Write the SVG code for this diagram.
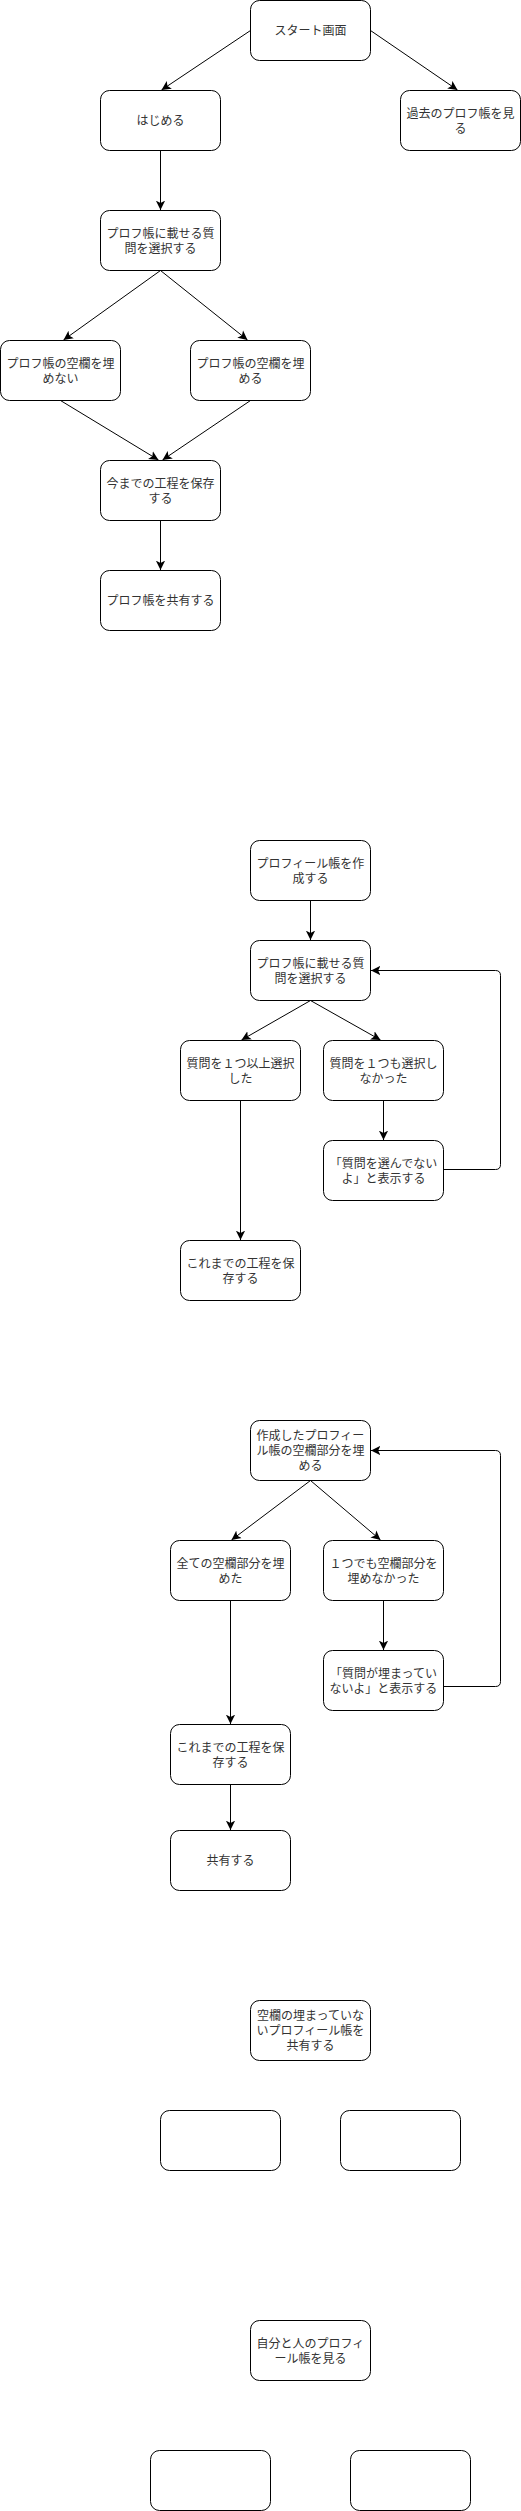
<svg xmlns="http://www.w3.org/2000/svg" width="521" height="2511" viewBox="0 0 521 2511">
<style>
.n rect{fill:#fff;stroke:#000;stroke-width:1}
.n text{font-family:"Liberation Sans","Noto Sans CJK JP",sans-serif;font-size:12px;fill:#333;text-anchor:middle}
.e path{fill:none;stroke:#000;stroke-width:1}
</style>
<defs>
<marker id="ar" markerUnits="userSpaceOnUse" markerWidth="10" markerHeight="10" viewBox="0 0 8 8" refX="7.5" refY="4" orient="auto">
<path d="M0,0.3 L7.5,4 L0,7.7 L1.8,4 Z" fill="#000" stroke="none"/>
</marker>
</defs>
<rect x="0" y="0" width="521" height="2511" fill="#fff"/>
<g transform="translate(0.5,0.5)">
<g class="e" id="connectors">
<path d="M250,30 L161,89.5" marker-end="url(#ar)"/>
<path d="M370,30 L457,89.5" marker-end="url(#ar)"/>
<path d="M160,150 L160,209.5" marker-end="url(#ar)"/>
<path d="M160,270 L63,339.5" marker-end="url(#ar)"/>
<path d="M160,270 L247,339.5" marker-end="url(#ar)"/>
<path d="M60,400 L158,459.5" marker-end="url(#ar)"/>
<path d="M250,400 L162,459.5" marker-end="url(#ar)"/>
<path d="M160,520 L160,569.5" marker-end="url(#ar)"/>
<path d="M310,900 L310,939.5" marker-end="url(#ar)"/>
<path d="M310,1000 L241,1039.5" marker-end="url(#ar)"/>
<path d="M310,1000 L380,1039.5" marker-end="url(#ar)"/>
<path d="M383,1100 L383,1139.5" marker-end="url(#ar)"/>
<path d="M443,1169 L495,1169 Q500,1169 500,1164 L500,975 Q500,970 495,970 L370.5,970" marker-end="url(#ar)"/>
<path d="M240,1100 L240,1239.5" marker-end="url(#ar)"/>
<path d="M310,1480 L231,1539.5" marker-end="url(#ar)"/>
<path d="M310,1480 L380,1539.5" marker-end="url(#ar)"/>
<path d="M383,1600 L383,1649.5" marker-end="url(#ar)"/>
<path d="M443,1686 L495,1686 Q500,1686 500,1681 L500,1455 Q500,1450 495,1450 L370.5,1450" marker-end="url(#ar)"/>
<path d="M230,1600 L230,1723.5" marker-end="url(#ar)"/>
<path d="M230,1784 L230,1829.5" marker-end="url(#ar)"/>
</g>
<g class="n" id="n1"><rect x="250" y="0" width="120" height="60" rx="9"/><text x="310" y="34.5">スタート画面</text></g>
<g class="n" id="n2"><rect x="100" y="90" width="120" height="60" rx="9"/><text x="160" y="124.5">はじめる</text></g>
<g class="n" id="n3"><rect x="400" y="90" width="120" height="60" rx="9"/><text x="460" y="117">過去のプロフ帳を見</text><text x="460" y="132">る</text></g>
<g class="n" id="n4"><rect x="100" y="210" width="120" height="60" rx="9"/><text x="160" y="237">プロフ帳に載せる質</text><text x="160" y="252">問を選択する</text></g>
<g class="n" id="n5"><rect x="0" y="340" width="120" height="60" rx="9"/><text x="60" y="367">プロフ帳の空欄を埋</text><text x="60" y="382">めない</text></g>
<g class="n" id="n6"><rect x="190" y="340" width="120" height="60" rx="9"/><text x="250" y="367">プロフ帳の空欄を埋</text><text x="250" y="382">める</text></g>
<g class="n" id="n7"><rect x="100" y="460" width="120" height="60" rx="9"/><text x="160" y="487">今までの工程を保存</text><text x="160" y="502">する</text></g>
<g class="n" id="n8"><rect x="100" y="570" width="120" height="60" rx="9"/><text x="160" y="604.5">プロフ帳を共有する</text></g>
<g class="n" id="n9"><rect x="250" y="840" width="120" height="60" rx="9"/><text x="310" y="867">プロフィール帳を作</text><text x="310" y="882">成する</text></g>
<g class="n" id="n10"><rect x="250" y="940" width="120" height="60" rx="9"/><text x="310" y="967">プロフ帳に載せる質</text><text x="310" y="982">問を選択する</text></g>
<g class="n" id="n11"><rect x="180" y="1040" width="120" height="60" rx="9"/><text x="240" y="1067">質問を１つ以上選択</text><text x="240" y="1082">した</text></g>
<g class="n" id="n12"><rect x="323" y="1040" width="120" height="60" rx="9"/><text x="383" y="1067">質問を１つも選択し</text><text x="383" y="1082">なかった</text></g>
<g class="n" id="n13"><rect x="323" y="1140" width="120" height="60" rx="9"/><text x="383" y="1167">「質問を選んでない</text><text x="383" y="1182">よ」と表示する</text></g>
<g class="n" id="n14"><rect x="180" y="1240" width="120" height="60" rx="9"/><text x="240" y="1267">これまでの工程を保</text><text x="240" y="1282">存する</text></g>
<g class="n" id="n15"><rect x="250" y="1420" width="120" height="60" rx="9"/><text x="310" y="1439.5">作成したプロフィー</text><text x="310" y="1454.5">ル帳の空欄部分を埋</text><text x="310" y="1469.5">める</text></g>
<g class="n" id="n16"><rect x="170" y="1540" width="120" height="60" rx="9"/><text x="230" y="1567">全ての空欄部分を埋</text><text x="230" y="1582">めた</text></g>
<g class="n" id="n17"><rect x="323" y="1540" width="120" height="60" rx="9"/><text x="383" y="1567">１つでも空欄部分を</text><text x="383" y="1582">埋めなかった</text></g>
<g class="n" id="n18"><rect x="323" y="1650" width="120" height="60" rx="9"/><text x="383" y="1677">「質問が埋まってい</text><text x="383" y="1692">ないよ」と表示する</text></g>
<g class="n" id="n19"><rect x="170" y="1724" width="120" height="60" rx="9"/><text x="230" y="1751">これまでの工程を保</text><text x="230" y="1766">存する</text></g>
<g class="n" id="n20"><rect x="170" y="1830" width="120" height="60" rx="9"/><text x="230" y="1864.5">共有する</text></g>
<g class="n" id="n21"><rect x="250" y="2000" width="120" height="60" rx="9"/><text x="310" y="2019.5">空欄の埋まっていな</text><text x="310" y="2034.5">いプロフィール帳を</text><text x="310" y="2049.5">共有する</text></g>
<g class="n" id="n22"><rect x="160" y="2110" width="120" height="60" rx="9"/></g>
<g class="n" id="n23"><rect x="340" y="2110" width="120" height="60" rx="9"/></g>
<g class="n" id="n24"><rect x="250" y="2320" width="120" height="60" rx="9"/><text x="310" y="2347">自分と人のプロフィ</text><text x="310" y="2362">ール帳を見る</text></g>
<g class="n" id="n25"><rect x="150" y="2450" width="120" height="60" rx="9"/></g>
<g class="n" id="n26"><rect x="350" y="2450" width="120" height="60" rx="9"/></g>
</g>
</svg>
